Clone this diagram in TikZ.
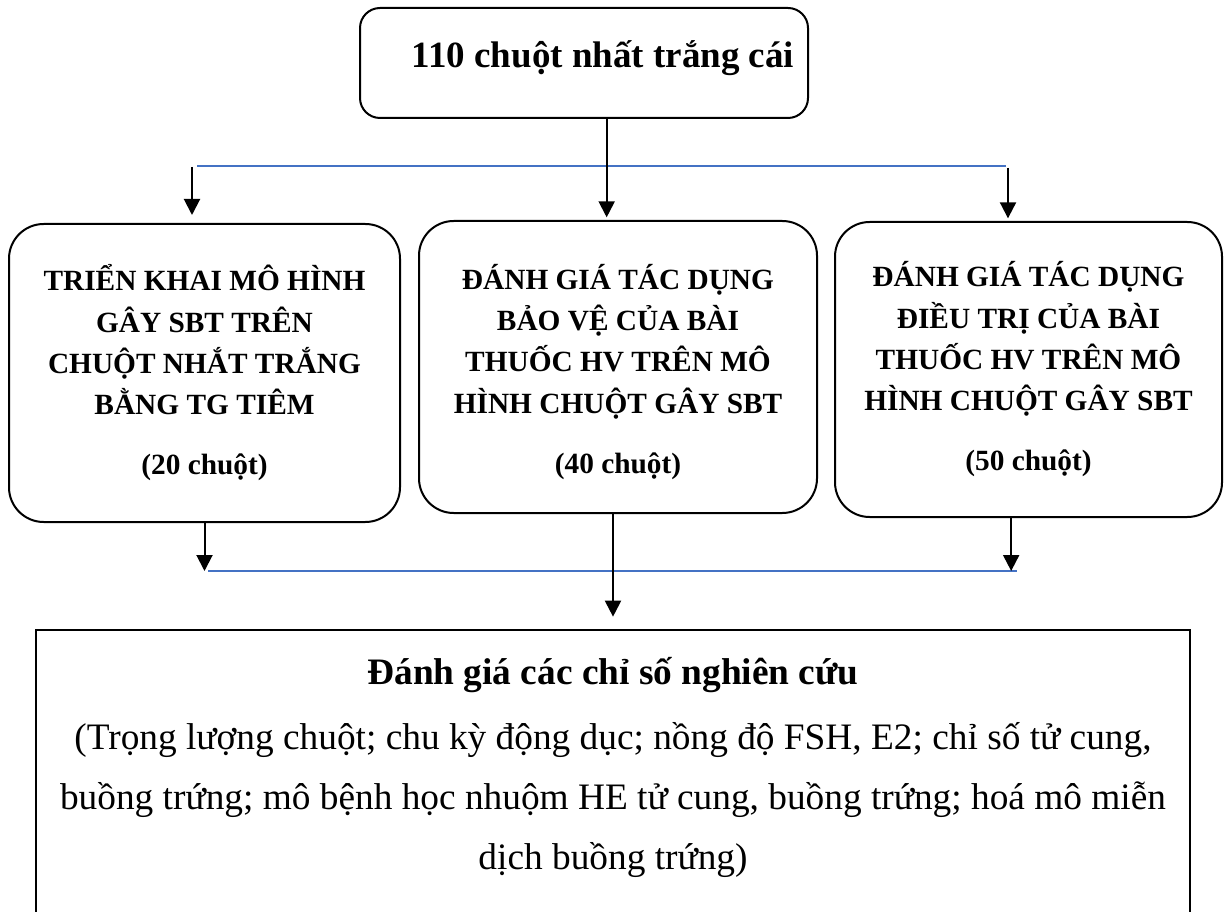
\documentclass[tikz,border=0pt]{standalone}
\usepackage{fontspec}
\setmainfont{Liberation Serif}
\usetikzlibrary{arrows.meta,positioning}
\definecolor{lineblue}{RGB}{68,114,196}

\begin{document}
\begin{tikzpicture}[x=0.75pt,y=-0.75pt,>={Triangle[width=12pt,length=12pt]},
		top box/.style={draw,line width=1.5pt,rounded corners=15pt,minimum width=336pt,minimum height=82.5pt,
			font=\fontsize{27.75}{33}\selectfont\bfseries,text height=20pt,text depth=12.5pt},
		group box/.style={draw,line width=1.5pt,rounded corners=26pt,align=center,
			font=\fontsize{22}{31}\selectfont\bfseries},
		result box/.style={align=center,font=\fontsize{28}{45}\selectfont},
		arrow line/.style={->,line width=1.5pt},
		split line/.style={lineblue,line width=1.5pt}]
	\useasboundingbox (0,0) rectangle (1230,912);

	% Nodes
	\node[top box] (mice) at (584,63) {\hspace*{28.5pt}110 chuột nhất trắng cái};
	\node[group box,minimum width=293.25pt,minimum height=223.5pt] (model) at (204.5,373)
		{TRIỂN KHAI MÔ HÌNH\\ GÂY SBT TRÊN\\ CHUỘT NHẮT TRẮNG\\ BẰNG TG TIÊM\\[14pt] (20 chuột)};
	\node[group box,minimum width=298.5pt,minimum height=219pt] (protect) at (618,367)
		{\rule{0pt}{26pt}ĐÁNH GIÁ TÁC DỤNG\\ BẢO VỆ CỦA BÀI\\ THUỐC HV TRÊN MÔ\\ HÌNH CHUỘT GÂY SBT\\[14pt] (40 chuột)};
	\node[group box,minimum width=290.25pt,minimum height=221.25pt] (treat) at (1028.5,369.5)
		{ĐÁNH GIÁ TÁC DỤNG\\ ĐIỀU TRỊ CỦA BÀI\\ THUỐC HV TRÊN MÔ\\ HÌNH CHUỘT GÂY SBT\\[14pt] (50 chuột)};
	\node[result box,anchor=north,minimum width=865.5pt,minimum height=206pt] (result) at (613,630)
		{\textbf{Đánh giá các chỉ số nghiên cứu}\\[4pt]
		 (Trọng lượng chuột; chu kỳ động dục; nồng độ FSH, E2; chỉ số tử cung,\\
		 buồng trứng; mô bệnh học nhuộm HE tử cung, buồng trứng; hoá mô miễn\\
		 dịch buồng trứng)};
	\draw[line width=1.5pt] ([yshift=-12pt]result.south west) -- (result.north west) -- (result.north east) -- ([yshift=-12pt]result.south east);

	% Split and merge lines
	\coordinate (splitL) at (197,166);
	\coordinate (splitR) at (1006,166);
	\coordinate (downL) at (192,167);
	\coordinate (downR) at (1008,168);
	\coordinate (mergeL) at (208,571);
	\coordinate (mergeR) at (1017,571);
	\draw[split line] (splitL) -- (splitR);
	\draw[split line] (mergeL) -- (mergeR);

	% Edges
	\draw[arrow line,shorten >=2pt] ([xshift=17pt]mice.south) -- ([xshift=17pt]mice.south |- protect.north);
	\draw[arrow line,shorten >=6pt] (downL) -- (downL |- model.north);
	\draw[arrow line,shorten >=2pt] (downR) -- (downR |- treat.north);
	\draw[arrow line] (model.south) -- (model.south |- mergeL);
	\draw[arrow line] ([xshift=-13pt]treat.south) -- ([xshift=-13pt]treat.south |- mergeR);
	\draw[arrow line,shorten >=10pt] ([xshift=-3.75pt]protect.south) -- ([xshift=-3.75pt]protect.south |- result.north);
\end{tikzpicture}
\end{document}
